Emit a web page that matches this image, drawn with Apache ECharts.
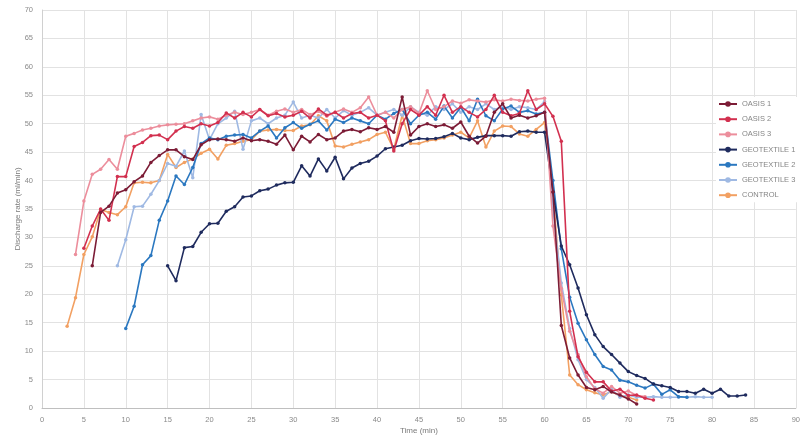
<!DOCTYPE html>
<html>
<head>
<meta charset="utf-8">
<script src="https://cdn.jsdelivr.net/npm/echarts@6/dist/echarts.min.js"></script>
<style>html,body{margin:0;padding:0;background:#fff}#c{width:803px;height:442px}</style>
</head>
<body>
<div id="c"></div>
<script>
// Data (time in minutes, discharge rate in ml/min)
const seriesNames = ["OASIS 1","OASIS 2","OASIS 3","GEOTEXTILE 1","GEOTEXTILE 2","GEOTEXTILE 3","CONTROL"];
const xTicks = [0,5,10,15,20,25,30,35,40,45,50,55,60,65,70,75,80,85,90];
const yTicks = [0,5,10,15,20,25,30,35,40,45,50,55,60,65,70];

const oasis1Start = 6;
const oasis1 = [25,34.4,35.5,37.8,38.4,39.8,40.8,43.2,44.4,45.4,45.4,44.2,43.7,46.3,47.2,47.3,47.2,46.9,47.5,47,47.2,46.9,46.4,48,45.4,47.8,46.8,48.1,47.2,47.5,48.7,49,48.6,49.3,49,49.5,48.5,54.7,48,49.5,50,49.5,49.8,49.2,50.3,47.8,46.6,47.8,52,53.5,51,51.5,51,51.4,52,38,14.5,8.8,5.8,3.6,3.2,3.8,2.8,2.3,1.6,0.7];

const oasis2Start = 5;
const oasis2 = [28.1,32,35,33,40.7,40.7,46,46.7,47.9,48,47.2,48.7,49.5,49.2,50,49.6,50.2,51.9,51,52,51.2,52.5,51.4,51.8,51.2,51.5,52.2,51,52.6,51.5,52,51,51.8,52,51,51.5,50.5,45.2,50,52.5,51.5,53,51.5,55,52,53,52,51.2,52.5,55,52,51.4,51.8,55.8,52.5,53.5,51.3,46.9,17,9,6.3,4.6,4.6,3,3.3,2.2,2.3,1.7,1.4];

const oasis3Start = 4;
const oasis3 = [27,36.4,41.1,42,43.7,42,47.8,48.3,48.9,49.2,49.6,49.8,49.9,50,50.5,51,51.2,50.8,51.5,52,51.6,52,52.5,51.5,52.2,52.6,52,52.5,51.6,52.2,51.3,52,52.6,52,52.8,54.7,51.5,52,51,52.5,53,51.8,55.8,52.5,53,54,53.6,54.2,54,53.8,54.2,54,54.3,54.1,54,54.3,54.5,32,21,13.5,9.4,5.5,3.4,2.6,3.8,2.6,3,2.2,2];

const geo1Start = 15;
const geo1 = [25,22.4,28.2,28.4,30.9,32.4,32.5,34.6,35.4,37.1,37.3,38.2,38.5,39.2,39.6,39.7,42.6,40.8,43.8,41.7,44.1,40.3,42.2,43,43.4,44.3,45.6,45.9,46.2,47,47.4,47.3,47.4,47.7,48.3,47.5,47.2,47.6,47.9,47.9,47.9,47.8,48.6,48.7,48.5,48.5,38,28.5,25.2,21.1,16.4,12.9,10.8,9.4,7.9,6.4,5.7,5.2,4.2,3.9,3.6,2.9,2.9,2.6,3.3,2.6,3.3,2.1,2.1,2.3];

const geo2Start = 10;
const geo2 = [14,17.9,25.2,26.8,33,36.4,40.8,39.3,42.3,46.5,47.5,47.2,47.8,48,48.1,47.5,48.7,49.6,47.5,49.3,50.2,49.2,49.9,50.5,48.9,50.8,50.2,51,50.5,50,51.5,50.8,51.8,52.5,50,51.5,52,50.8,53.1,51,52.9,50.5,54.3,51.4,50.5,52.6,53.1,52,52.3,51.7,52,40,28,19.5,14.9,12,9.4,7.3,6.7,4.9,4.6,4,3.5,4.2,2.4,3.2,2,1.9];

const geo3Start = 9;
const geo3 = [25,29.6,35.4,35.5,37.6,40,43,42.5,45.2,40.5,51.6,47.2,50,51,52.2,45.5,50.5,51,50,51,51.5,53.8,51,51.5,51,52.5,51,52.3,51.5,52,52.8,51.5,52,52.5,51.5,53,52,51.5,53,52.5,53.5,52,53,52.5,53.5,52.5,53,52.5,53,52.8,52.5,53.9,35,22,14,8.5,5,3.6,1.7,3.3,1.9,2.3,1.9,1.9,2,1.9,1.9,1.9,1.9,2,1.9,1.9];

const controlStart = 3;
const control = [14.4,19.4,27,30.1,34.9,34.4,34,35.4,39.6,39.7,39.6,40,44.6,42.3,43.2,43.8,44.8,45.5,43.8,46.2,46.5,46.9,47.2,48.7,48.9,49,48.8,48.8,49.6,49.8,51.4,50.5,46.1,45.9,46.4,46.8,47.2,48.1,48.5,45.5,51.5,46.5,46.5,47,47.2,47.5,48,48.5,47.5,50.5,45.9,48.7,49.6,49.5,48.2,47.8,49,50.2,37.9,19.9,5.8,4.1,3.2,2.7,2.3,2.9,2.1,1.9,1.4];

const colors = ["#7c1c36","#d2304f","#ec8e9c","#1f2b5e","#2b78c0","#9fb9e3","#f2a062"];

function pairs(start, arr){ return arr.map((v,i)=>[start+i, v]); }
const allData = [
  pairs(oasis1Start, oasis1), pairs(oasis2Start, oasis2), pairs(oasis3Start, oasis3),
  pairs(geo1Start, geo1), pairs(geo2Start, geo2), pairs(geo3Start, geo3),
  pairs(controlStart, control)
];

const chart = echarts.init(document.getElementById('c'), null, {renderer:'canvas'});
const labelStyle = {color:'#8a8a8a', fontSize:7.5, fontFamily:'Liberation Sans, Arial, sans-serif'};
chart.setOption({
  animation:false,
  backgroundColor:'#fff',
  color: colors,
  grid:{left:42, right:3, top:10, bottom:34, containLabel:false},
  legend:{
    orient:'vertical', left:716, top:97,
    itemWidth:18, itemHeight:7, itemGap:7.2,
    backgroundColor:'#fff', padding:[3,6,3,2],
    textStyle:{color:'#858585', fontSize:7.5, fontFamily:'Liberation Sans, Arial, sans-serif'},
    data: seriesNames
  },
  xAxis:{
    type:'value', min:0, max:90, interval:5,
    name:'Time (min)', nameLocation:'middle', nameGap:19, nameMoveOverlap:false,
    nameTextStyle:{color:'#7a7a7a', fontSize:8, fontFamily:'Liberation Sans, Arial, sans-serif'},
    axisLine:{show:true, lineStyle:{color:'#bfbfbf'}},
    axisTick:{show:false},
    axisLabel:{...labelStyle, margin:8, formatter:(v)=> xTicks.includes(v)? String(v):''},
    splitLine:{show:true, lineStyle:{color:'#e2e2e2', width:1}}
  },
  yAxis:{
    type:'value', min:0, max:70, interval:5,
    name:'Discharge rate (ml/min)', nameLocation:'middle', nameGap:20, nameRotate:90,
    nameMoveOverlap:false,
    nameTextStyle:{color:'#7a7a7a', fontSize:8, fontFamily:'Liberation Sans, Arial, sans-serif'},
    axisLine:{show:true, lineStyle:{color:'#d0d0d0'}},
    axisTick:{show:false},
    axisLabel:{...labelStyle, margin:9, formatter:(v)=> yTicks.includes(v)? String(v):''},
    splitLine:{show:true, lineStyle:{color:'#e2e2e2', width:1}}
  },
  series: seriesNames.map((n,i)=>({
    name:n, type:'line', data: allData[i],
    symbol:'circle', symbolSize:3.5, showSymbol:true,
    lineStyle:{width:1.6, color:colors[i]},
    itemStyle:{color:colors[i]},
    z: 10 - i
  }))
});
</script>
</body>
</html>
